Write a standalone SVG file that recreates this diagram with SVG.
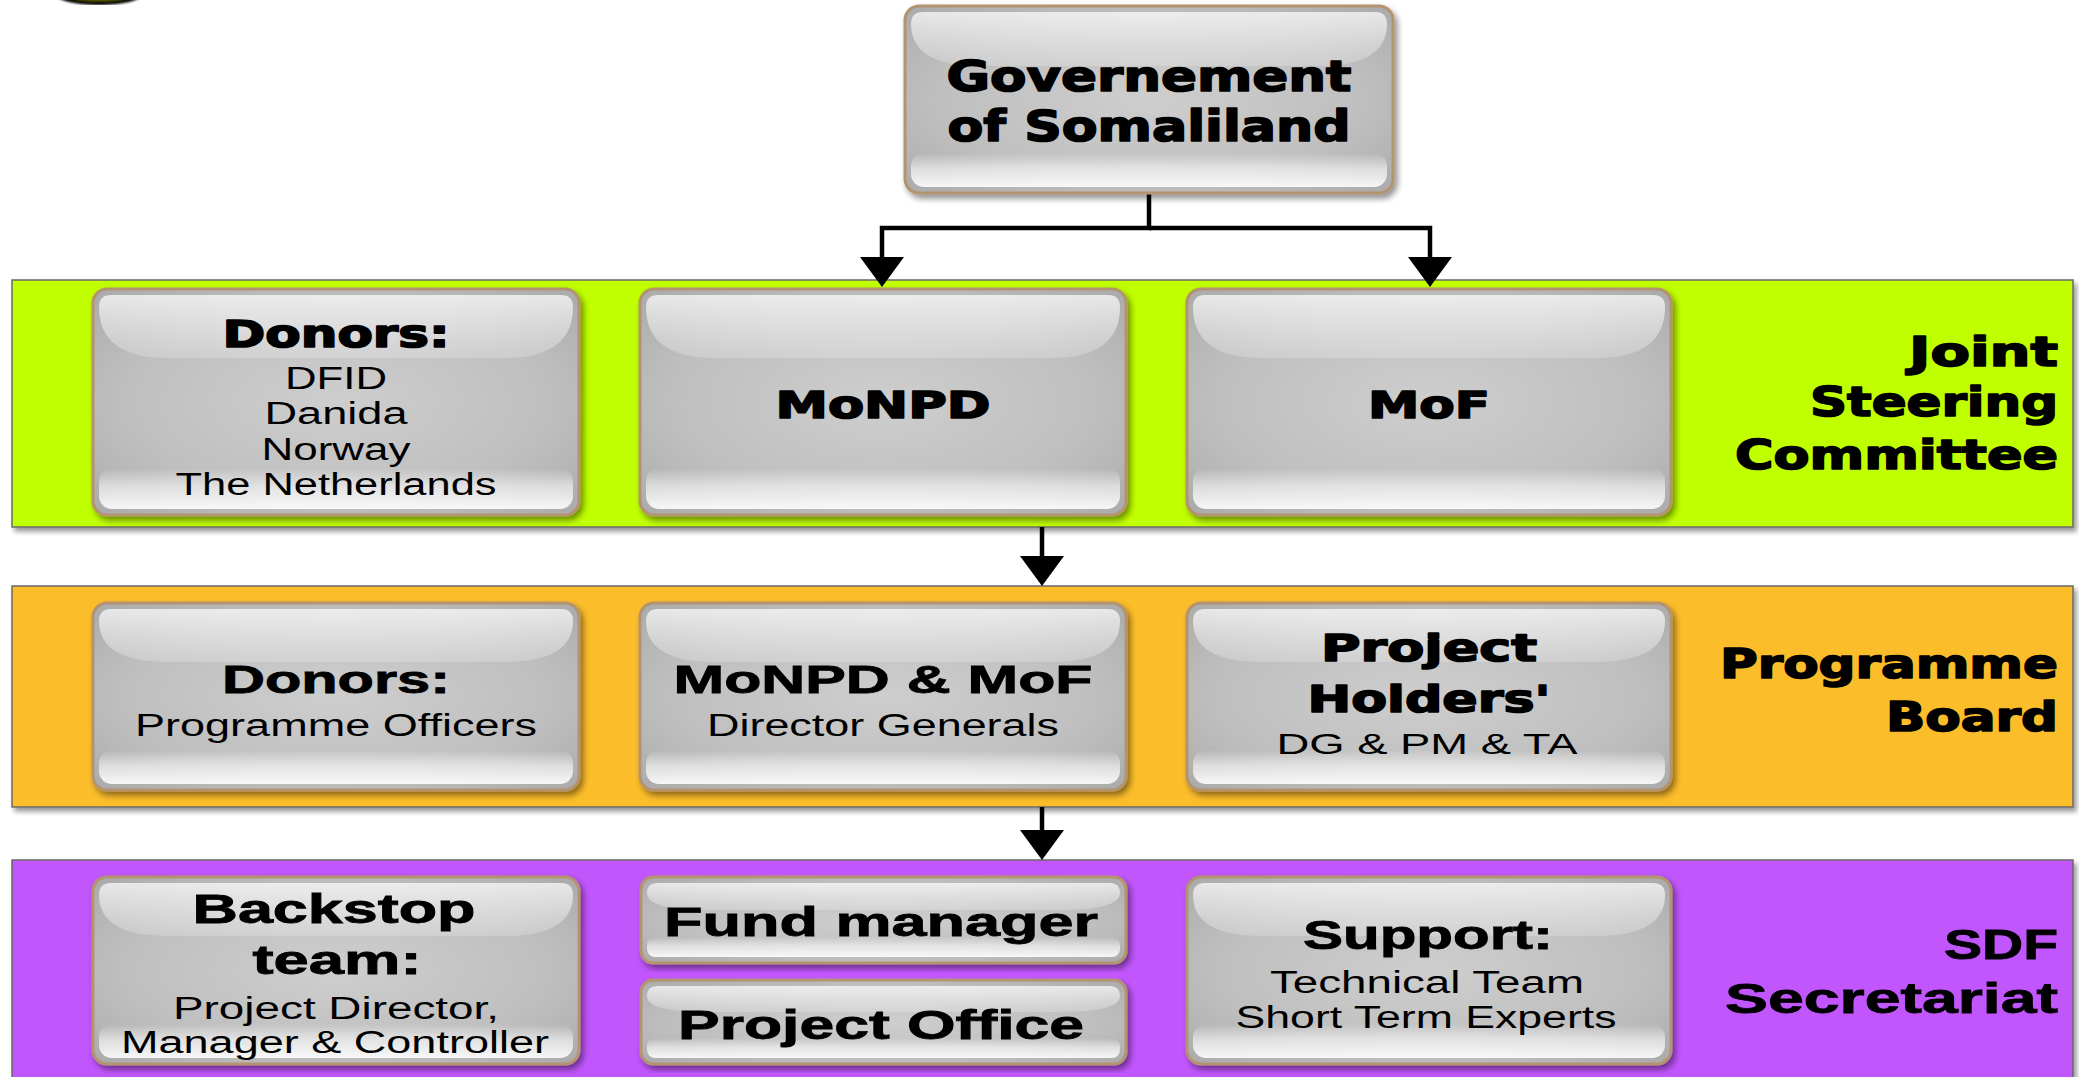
<svg xmlns="http://www.w3.org/2000/svg" width="2079" height="1077" viewBox="0 0 2079 1077">
<defs>
<style>
.band{stroke:#6a6a6a;stroke-width:1.5;filter:url(#bsh)}
.bx{fill:url(#body);stroke:#b3936f;stroke-width:3;filter:url(#sh)}
.gt{fill:url(#gloss)}
.gb{fill:url(#glossb)}
text{fill:#000;text-anchor:middle}
.hb{font-family:"DejaVu Sans",sans-serif;font-weight:bold;stroke:#000;stroke-width:1.6;stroke-linejoin:round}
.nb{font-family:"Liberation Sans",Arial,sans-serif;font-weight:bold;stroke:#000;stroke-width:0.8}
.rg{font-family:"Liberation Sans",Arial,sans-serif}
.lbl{text-anchor:end}
.con{fill:none;stroke:#000;stroke-width:4.5;marker-end:url(#arr)}
</style>
<radialGradient id="body" cx="0.5" cy="0.5" r="0.72">
<stop offset="0" stop-color="#cecece"/><stop offset="0.6" stop-color="#bfbfbf"/><stop offset="1" stop-color="#a9a9a9"/>
</radialGradient>
<linearGradient id="gloss" x1="0" y1="0" x2="0" y2="1">
<stop offset="0" stop-color="#fff" stop-opacity="0.72"/><stop offset="0.7" stop-color="#fff" stop-opacity="0.35"/><stop offset="1" stop-color="#fff" stop-opacity="0.2"/>
</linearGradient>
<linearGradient id="glossb" x1="0" y1="0" x2="0" y2="1">
<stop offset="0" stop-color="#fff" stop-opacity="0"/><stop offset="0.45" stop-color="#fff" stop-opacity="0.55"/><stop offset="1" stop-color="#fff" stop-opacity="0.9"/>
</linearGradient>
<filter id="sh" x="-5%" y="-5%" width="112%" height="115%">
<feGaussianBlur in="SourceAlpha" stdDeviation="3"/><feOffset dx="3" dy="4"/><feComponentTransfer><feFuncA type="linear" slope="0.45"/></feComponentTransfer>
<feMerge><feMergeNode/><feMergeNode in="SourceGraphic"/></feMerge>
</filter>
<filter id="bsh" x="-2%" y="-5%" width="104%" height="115%">
<feGaussianBlur in="SourceAlpha" stdDeviation="2.5"/><feOffset dx="3" dy="4"/><feComponentTransfer><feFuncA type="linear" slope="0.4"/></feComponentTransfer>
<feMerge><feMergeNode/><feMergeNode in="SourceGraphic"/></feMerge>
</filter>
<filter id="blur1"><feGaussianBlur stdDeviation="1.2"/></filter>
<marker id="arr" markerUnits="userSpaceOnUse" viewBox="0 0 30 44" markerWidth="30" markerHeight="44" refX="0" refY="22" orient="auto">
<path d="M0,0 L30,22 L0,44 Z" fill="#000"/>
</marker>
</defs>
<rect width="2079" height="1077" fill="#fff"/>

<ellipse cx="99" cy="-7" rx="42" ry="10" fill="#5c5c00" stroke="#000" stroke-width="4" filter="url(#blur1)"/>

<g id="band-jsc"><rect class="band" x="12" y="280" width="2061" height="247" fill="#c0ff00"/>
<text class="hb lbl" font-size="40" x="2058" y="366" textLength="149" lengthAdjust="spacingAndGlyphs">Joint</text>
<text class="hb lbl" font-size="40" x="2058" y="416" textLength="248" lengthAdjust="spacingAndGlyphs">Steering</text>
<text class="hb lbl" font-size="40" x="2058" y="469" textLength="323" lengthAdjust="spacingAndGlyphs">Committee</text>
</g>
<g id="band-pb"><rect class="band" x="12" y="586" width="2061" height="221" fill="#fcbd2b"/>
<text class="hb lbl" font-size="40" x="2058" y="678" textLength="338" lengthAdjust="spacingAndGlyphs">Programme</text>
<text class="hb lbl" font-size="40" x="2058" y="731" textLength="172" lengthAdjust="spacingAndGlyphs">Board</text>
</g>
<g id="band-sdf"><rect class="band" x="12" y="860" width="2061" height="240" fill="#c056fc"/>
<text class="nb lbl" font-size="42" x="2058" y="959" textLength="114" lengthAdjust="spacingAndGlyphs">SDF</text>
<text class="nb lbl" font-size="42" x="2058" y="1013" textLength="333" lengthAdjust="spacingAndGlyphs">Secretariat</text>
</g>

<g id="connectors">
<path class="con" d="M1149,194 V228 H882 V257"/>
<path class="con" d="M1149,228 H1430 V257"/>
<path class="con" d="M1042,527 V556"/>
<path class="con" d="M1042,807 V830"/>
</g>

<g id="gov">
<rect class="bx" x="905" y="6" width="488" height="187" rx="14"/>
<path class="gt" d="M911,24 Q911,12 923,12 H1375 Q1387,12 1387,24 Q1387,66 1318,66 H980 Q911,66 911,24 Z"/>
<rect class="gb" x="911" y="153" width="476" height="34" rx="13"/>
<text class="hb" font-size="42" x="1149" y="91" textLength="405" lengthAdjust="spacingAndGlyphs">Governement</text>
<text class="hb" font-size="42" x="1149" y="141" textLength="403" lengthAdjust="spacingAndGlyphs">of Somaliland</text>
</g>

<g id="jsc-donors">
<rect class="bx" x="93" y="289" width="486" height="226" rx="14"/>
<path class="gt" d="M99,307 Q99,295 111,295 H561 Q573,295 573,307 Q573,358 504,358 H168 Q99,358 99,307 Z"/>
<rect class="gb" x="99" y="468" width="474" height="41" rx="13"/>
<text class="hb" font-size="37" x="336" y="347" textLength="227" lengthAdjust="spacingAndGlyphs">Donors:</text>
<text class="rg" font-size="31" x="336" y="389" textLength="102" lengthAdjust="spacingAndGlyphs">DFID</text>
<text class="rg" font-size="31" x="336" y="424" textLength="143" lengthAdjust="spacingAndGlyphs">Danida</text>
<text class="rg" font-size="31" x="336" y="460" textLength="149" lengthAdjust="spacingAndGlyphs">Norway</text>
<text class="rg" font-size="31" x="336" y="495" textLength="321" lengthAdjust="spacingAndGlyphs">The Netherlands</text>
</g>
<g id="jsc-monpd">
<rect class="bx" x="640" y="289" width="486" height="226" rx="14"/>
<path class="gt" d="M646,307 Q646,295 658,295 H1108 Q1120,295 1120,307 Q1120,358 1051,358 H715 Q646,358 646,307 Z"/>
<rect class="gb" x="646" y="468" width="474" height="41" rx="13"/>
<text class="hb" font-size="38" x="883" y="418" textLength="215" lengthAdjust="spacingAndGlyphs">MoNPD</text>
</g>
<g id="jsc-mof">
<rect class="bx" x="1187" y="289" width="484" height="226" rx="14"/>
<path class="gt" d="M1193,307 Q1193,295 1205,295 H1653 Q1665,295 1665,307 Q1665,358 1596,358 H1262 Q1193,358 1193,307 Z"/>
<rect class="gb" x="1193" y="468" width="472" height="41" rx="13"/>
<text class="hb" font-size="38" x="1429" y="418" textLength="122" lengthAdjust="spacingAndGlyphs">MoF</text>
</g>

<g id="pb-donors">
<rect class="bx" x="93" y="603" width="486" height="187" rx="14"/>
<path class="gt" d="M99,621 Q99,609 111,609 H561 Q573,609 573,621 Q573,662 504,662 H168 Q99,662 99,621 Z"/>
<rect class="gb" x="99" y="750" width="474" height="34" rx="13"/>
<text class="nb" font-size="38" x="336" y="693" textLength="228" lengthAdjust="spacingAndGlyphs">Donors:</text>
<text class="rg" font-size="31" x="336" y="736" textLength="402" lengthAdjust="spacingAndGlyphs">Programme Officers</text>
</g>
<g id="pb-ministries">
<rect class="bx" x="640" y="603" width="486" height="187" rx="14"/>
<path class="gt" d="M646,621 Q646,609 658,609 H1108 Q1120,609 1120,621 Q1120,662 1051,662 H715 Q646,662 646,621 Z"/>
<rect class="gb" x="646" y="750" width="474" height="34" rx="13"/>
<text class="nb" font-size="38" x="883" y="693" textLength="419" lengthAdjust="spacingAndGlyphs">MoNPD &amp; MoF</text>
<text class="rg" font-size="31" x="883" y="736" textLength="352" lengthAdjust="spacingAndGlyphs">Director Generals</text>
</g>
<g id="pb-holders">
<rect class="bx" x="1187" y="603" width="484" height="187" rx="14"/>
<path class="gt" d="M1193,621 Q1193,609 1205,609 H1653 Q1665,609 1665,621 Q1665,662 1596,662 H1262 Q1193,662 1193,621 Z"/>
<rect class="gb" x="1193" y="750" width="472" height="34" rx="13"/>
<text class="hb" font-size="38" x="1429" y="661" textLength="216" lengthAdjust="spacingAndGlyphs">Project</text>
<text class="hb" font-size="38" x="1429" y="712" textLength="243" lengthAdjust="spacingAndGlyphs">Holders'</text>
<text class="rg" font-size="29" x="1427" y="754" textLength="301" lengthAdjust="spacingAndGlyphs">DG &amp; PM &amp; TA</text>
</g>

<g id="sdf-backstop">
<rect class="bx" x="93" y="877" width="486" height="187" rx="14"/>
<path class="gt" d="M99,895 Q99,883 111,883 H561 Q573,883 573,895 Q573,936 504,936 H168 Q99,936 99,895 Z"/>
<rect class="gb" x="99" y="1024" width="474" height="34" rx="13"/>
<text class="nb" font-size="40" x="334" y="923" textLength="283" lengthAdjust="spacingAndGlyphs">Backstop</text>
<text class="nb" font-size="40" x="337" y="974" textLength="169" lengthAdjust="spacingAndGlyphs">team:</text>
<text class="rg" font-size="31" x="336" y="1019" textLength="326" lengthAdjust="spacingAndGlyphs">Project Director,</text>
<text class="rg" font-size="31" x="335" y="1053" textLength="428" lengthAdjust="spacingAndGlyphs">Manager &amp; Controller</text>
</g>
<g id="sdf-fund">
<rect class="bx" x="641" y="877" width="485" height="86" rx="12"/>
<path class="gt" d="M647,893 Q647,883 657,883 H1110 Q1120,883 1120,893 Q1120,910 1060,910 H707 Q647,910 647,893 Z"/>
<rect class="gb" x="647" y="937" width="473" height="20" rx="8"/>
<text class="nb" font-size="40" x="881" y="936" textLength="434" lengthAdjust="spacingAndGlyphs">Fund manager</text>
</g>
<g id="sdf-office">
<rect class="bx" x="641" y="980" width="485" height="84" rx="12"/>
<path class="gt" d="M647,996 Q647,986 657,986 H1110 Q1120,986 1120,996 Q1120,1012 1060,1012 H707 Q647,1012 647,996 Z"/>
<rect class="gb" x="647" y="1038" width="473" height="20" rx="8"/>
<text class="nb" font-size="40" x="881" y="1039" textLength="406" lengthAdjust="spacingAndGlyphs">Project Office</text>
</g>
<g id="sdf-support">
<rect class="bx" x="1187" y="877" width="484" height="187" rx="14"/>
<path class="gt" d="M1193,895 Q1193,883 1205,883 H1653 Q1665,883 1665,895 Q1665,936 1596,936 H1262 Q1193,936 1193,895 Z"/>
<rect class="gb" x="1193" y="1024" width="472" height="34" rx="13"/>
<text class="nb" font-size="40" x="1428" y="949" textLength="250" lengthAdjust="spacingAndGlyphs">Support:</text>
<text class="rg" font-size="31" x="1427" y="993" textLength="314" lengthAdjust="spacingAndGlyphs">Technical Team</text>
<text class="rg" font-size="31" x="1426" y="1028" textLength="381" lengthAdjust="spacingAndGlyphs">Short Term Experts</text>
</g>
</svg>
